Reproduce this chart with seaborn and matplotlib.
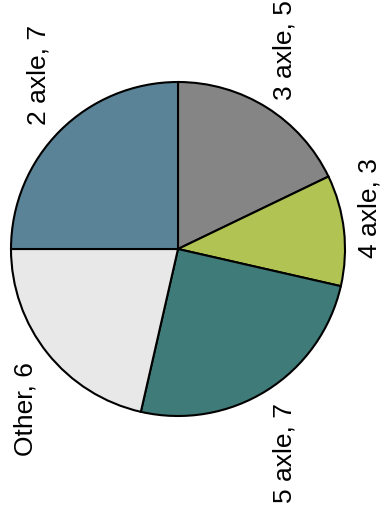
import numpy as np
import matplotlib
matplotlib.use("Agg")
import matplotlib.pyplot as plt
import seaborn as sns

# Vehicle classes and counts, clockwise from 12 o'clock
categories = ["3 axle", "4 axle", "5 axle", "Other", "2 axle"]
counts = [5, 3, 7, 6, 7]
colors = ["#858585", "#b1c453", "#3f7b78", "#e8e8e8", "#5b8397"]

sns.set_theme(style="white")
plt.rcParams["font.family"] = ["Liberation Sans", "DejaVu Sans"]

W, H, DPI = 381, 510, 100
fig = plt.figure(figsize=(W / DPI, H / DPI), dpi=DPI)
ax = fig.add_axes([0, 0, 1, 1])

wedges, _ = ax.pie(
    counts,
    colors=colors,
    startangle=90,
    counterclock=False,
    radius=1.0,
    wedgeprops=dict(edgecolor="black", linewidth=1.5),
)

# Pie placement in pixels: centre and radius
cx, cy, r = 178, 250, 167

# Small vertical nudges (px, positive = downward) to keep labels clear
label_nudge = {"3 axle": 6, "4 axle": 29, "5 axle": -3, "Other": -2, "2 axle": 5}

# Labels run bottom-to-top, set just outside each wedge
for w, cat, n in zip(wedges, categories, counts):
    mid = np.deg2rad((w.theta1 + w.theta2) / 2)
    x, y = 1.1 * np.cos(mid), 1.1 * np.sin(mid)
    va = "bottom" if y > 0 else "top"
    x += 0.055 * np.sign(x)
    y -= label_nudge[cat] / r
    ax.text(
        x, y, f"{cat}, {n}",
        rotation=90,
        ha="center",
        va=va,
        fontsize=19,
        color="black",
    )

ax.set_xlim(-cx / r, (W - cx) / r)
ax.set_ylim(-(H - cy) / r, cy / r)
ax.set_aspect("auto")
ax.axis("off")

fig.savefig("out.png", dpi=DPI, facecolor="white")
